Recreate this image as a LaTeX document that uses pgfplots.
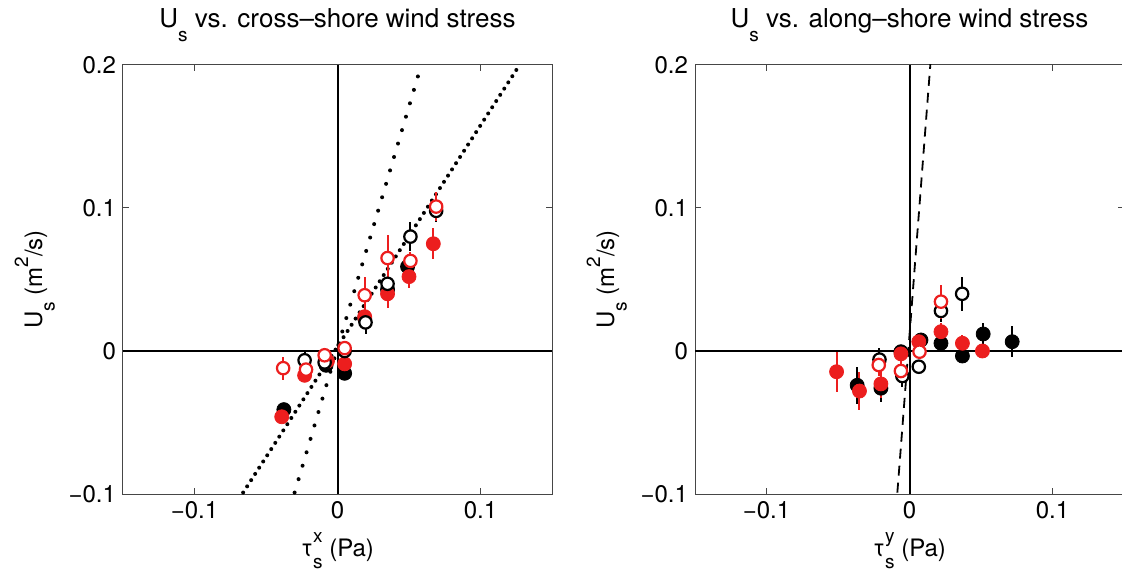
\documentclass[border=0pt]{standalone}
\usepackage{fontspec}
\setmainfont{TeX Gyre Heros}
\usepackage{pgfplots}
\pgfplotsset{compat=1.18}
\definecolor{pred}{RGB}{236,30,30}
\definecolor{frame}{RGB}{70,70,70}

% MATLAB-style low subscripts / high superscripts
\newcommand{\lsub}[1]{\raisebox{-0.52em}{\fontsize{9.5}{10}\selectfont #1}}
\newcommand{\hsup}[1]{\raisebox{0.58em}{\fontsize{9.5}{10}\selectfont #1}}

% x  y  e
\pgfplotstableread{
x y e
0.049 0.059 0.005
0.035 0.043 0.006
0.019 0.023 0.005
0.005 -0.0156 0.005
-0.008 -0.010 0.004
-0.0375 -0.041 0.004
}\Lbf
\pgfplotstableread{
x y e
0.067 0.075 0.011
0.050 0.052 0.008
0.035 0.040 0.010
0.019 0.024 0.005
0.005 -0.009 0.006
-0.007 -0.007 0.004
-0.023 -0.017 0.005
-0.039 -0.046 0.004
}\Lrf
\pgfplotstableread{
x y e
0.069 0.098 0.008
0.051 0.080 0.010
0.035 0.047 0.012
0.0196 0.020 0.008
0.005 0.000 0.004
-0.009 -0.008 0.005
-0.023 -0.0065 0.006
}\Lbo
\pgfplotstableread{
x y e
0.069 0.101 0.010
0.051 0.063 0.006
0.035 0.065 0.016
0.019 0.039 0.013
0.005 0.002 0.004
-0.009 -0.003 0.004
-0.022 -0.013 0.006
-0.038 -0.012 0.008
}\Lro

\pgfplotstableread{
x y e
-0.0366 -0.024 0.013
-0.020 -0.026 0.010
-0.006 -0.0005 0.005
0.008 0.0077 0.005
0.022 0.0054 0.005
0.037 -0.0035 0.004
0.0515 0.0119 0.008
0.0718 0.0065 0.011
}\Rbf
\pgfplotstableread{
x y e
-0.051 -0.0145 0.014
-0.035 -0.028 0.013
-0.020 -0.023 0.010
-0.006 -0.002 0.005
0.0065 0.0065 0.005
0.022 0.0135 0.006
0.037 0.0054 0.006
0.051 0.000 0.003
}\Rrf
\pgfplotstableread{
x y e
-0.021 -0.006 0.008
-0.005 -0.0175 0.008
0.0065 -0.011 0.005
0.022 0.028 0.008
0.0368 0.040 0.012
}\Rbo
\pgfplotstableread{
x y e
-0.0215 -0.0098 0.008
-0.006 -0.014 0.008
0.007 -0.0005 0.005
0.022 0.0345 0.012
}\Rro

\pgfplotsset{
  panel/.style={
    scale only axis, width=214.5pt, height=214.5pt,
    xmin=-0.15, xmax=0.15, ymin=-0.1, ymax=0.2,
    xtick={-0.1,0,0.1}, xticklabels={−0.1,0,0.1},
    ytick={-0.1,0,0.1,0.2}, yticklabels={−0.1,0,0.1,0.2},
    tick align=inside, major tick length=3pt,
    axis line style={frame, line width=0.5pt},
    tick style={frame, line width=0.5pt},
    every tick label/.append style={font=\fontsize{12}{14}\selectfont},
    label style={font=\fontsize{12}{14}\selectfont},
    title style={anchor=base, yshift=12.5pt,
      font=\fontsize{13}{15}\selectfont},
    ylabel={U\lsub{s} (m\hsup{2}/s)},
  },
  filled/.style={only marks, mark=*, mark size=3.5pt, color=#1,
    mark options={fill=#1, draw=#1},
    error bars/.cd, y dir=both, y explicit, error mark=none,
    error bar style={line width=1pt, #1}},
  open/.style={only marks, mark=*, mark size=3.1pt, color=#1,
    mark options={fill=white, draw=#1, line width=1.1pt},
    error bars/.cd, y dir=both, y explicit, error mark=none,
    error bar style={line width=1pt, #1}},
}

\begin{document}
\begin{tikzpicture}
\useasboundingbox (-61.5pt,-39pt) rectangle (499.5pt,247pt);
\clip (-61.5pt,-39pt) rectangle (499.5pt,247pt);

\begin{axis}[panel, at={(0pt,0pt)}, anchor=south west,
  title={U\lsub{s} vs. cross–shore wind stress},
  xlabel={τ\rlap{\hsup{x}}\lsub{s} (Pa)}]
\addplot[black, line width=1pt] coordinates {(-0.15,0) (0.15,0)};
\addplot[black, line width=1pt] coordinates {(0,-0.1) (0,0.2)};
\addplot[black, line width=2pt, line cap=round, dash pattern=on 0pt off 7pt]
  coordinates {(-0.030,-0.099) (0.058,0.198)};
\addplot[black, line width=2pt, line cap=round, dash pattern=on 0pt off 3.7pt]
  coordinates {(-0.066,-0.099) (0.126,0.198)};
\addplot[filled=black] table[x=x, y=y, y error=e] {\Lbf};
\addplot[filled=pred] table[x=x, y=y, y error=e] {\Lrf};
\addplot[open=black] table[x=x, y=y, y error=e] {\Lbo};
\addplot[open=pred] table[x=x, y=y, y error=e] {\Lro};
\end{axis}

\begin{axis}[panel, at={(286pt,0pt)}, anchor=south west,
  title={U\lsub{s} vs. along–shore wind stress},
  xlabel={τ\rlap{\hsup{y}}\lsub{s} (Pa)}]
\addplot[black, line width=1pt] coordinates {(-0.15,0) (0.15,0)};
\addplot[black, line width=1pt] coordinates {(0,-0.1) (0,0.2)};
\addplot[black, line width=0.9pt, dash pattern=on 5pt off 3.5pt]
  coordinates {(-0.0085,-0.099) (0.0147,0.202)};
\addplot[filled=black] table[x=x, y=y, y error=e] {\Rbf};
\addplot[filled=pred] table[x=x, y=y, y error=e] {\Rrf};
\addplot[open=black] table[x=x, y=y, y error=e] {\Rbo};
\addplot[open=pred] table[x=x, y=y, y error=e] {\Rro};
\end{axis}
\end{tikzpicture}
\end{document}
